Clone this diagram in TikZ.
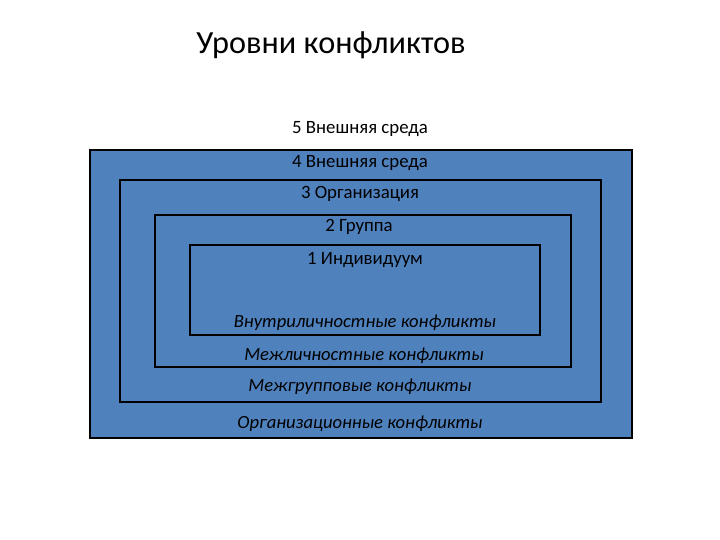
\documentclass[tikz,border=0pt]{standalone}
\usepackage{fontspec}
\setmainfont{Carlito}
\definecolor{boxblue}{HTML}{4F81BD}
\begin{document}
\begin{tikzpicture}[x=1pt,y=-1pt,
  lvl/.style={draw=black,line width=2pt,fill=boxblue},
  lab/.style={font=\fontsize{18.8}{21}\selectfont,text=black},
  ilab/.style={font=\fontsize{18.6}{21}\selectfont\itshape,text=black}]
\useasboundingbox (0,0) rectangle (720,540);
\node[font=\fontsize{32.3}{36}\selectfont] (title) at (331,45) {Уровни конфликтов};
\node[lab] (l5) at (360,129) {5 Внешняя среда};
\draw[lvl] (90,150) rectangle (632,438);
\draw[lvl] (120,180) rectangle (601,402);
\draw[lvl] (155,215) rectangle (571,367);
\draw[lvl] (190,245) rectangle (540,335);
\node[lab] (l4) at (360,163) {4 Внешняя среда};
\node[lab] (l3) at (360,194) {3 Организация};
\node[lab] (l2) at (359,227) {2 Группа};
\node[lab] (l1) at (365,260) {1 Индивидуум};
\node[ilab] (c1) at (365,323) {Внутриличностные конфликты};
\node[ilab] (c2) at (364,356) {Межличностные конфликты};
\node[ilab] (c3) at (360,387) {Межгрупповые конфликты};
\node[ilab] (c4) at (360,424) {Организационные конфликты};
\end{tikzpicture}
\end{document}
